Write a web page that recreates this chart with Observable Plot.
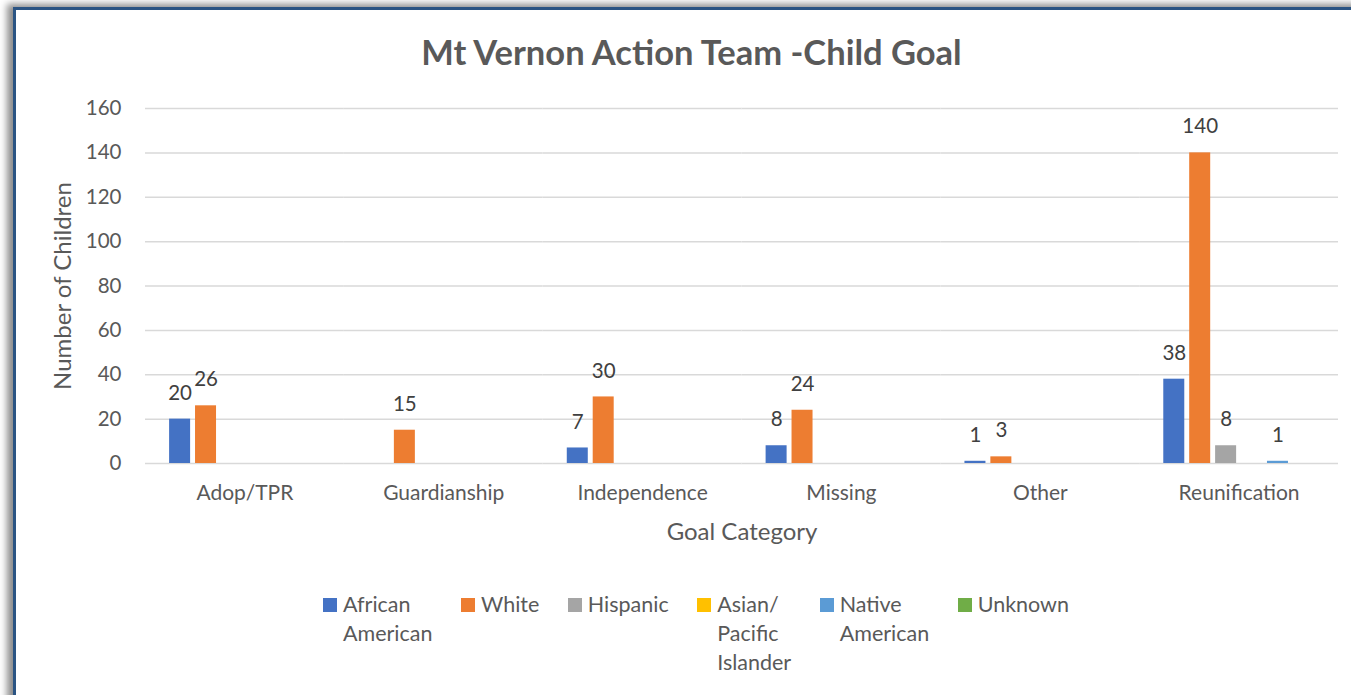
<!DOCTYPE html>
<html>
<head>
<meta charset="utf-8">
<script src="https://cdn.jsdelivr.net/npm/d3@7"></script>
<script src="https://cdn.jsdelivr.net/npm/@observablehq/plot@0.6"></script>
<style>
  html, body { margin: 0; padding: 0; background: #fff; }
  #wrap { position: relative; width: 1351px; height: 695px; overflow: hidden; background: #fff; font-family: Lato, "Open Sans", sans-serif; }
  #frame { position: absolute; left: 13px; top: 7px; width: 1500px; height: 900px;
           border-left: 3px solid #2B5483; border-top: 3px solid #2B5483;
           box-shadow: -6px -3px 7px rgba(0,0,0,0.45); background: #fff; }
  #title { position: absolute; left: 0; width: 1383px; top: 31px; text-align: center;
           font-size: 34.5px; font-weight: bold; color: #595959; }
  #chart { position: absolute; left: 0; top: 85px; }
  #legend { position: absolute; left: 323px; top: 590px; display: flex; align-items: flex-start;
            font-size: 21.5px; color: #595959; line-height: 29px; }
  .item { display: flex; align-items: flex-start; margin-right: 28.5px; }
  .sw { width: 14px; height: 14px; margin-top: 8px; margin-right: 6px; flex: none; }
</style>
</head>
<body>
<div id="wrap">
  <div id="frame"></div>
  <div id="title">Mt Vernon Action Team -Child Goal</div>
  <div id="chart"></div>
  <div id="legend"></div>
</div>
<script>
const categories = ["Adop/TPR", "Guardianship", "Independence", "Missing", "Other", "Reunification"];
const series = ["African American", "White", "Hispanic", "Asian/ Pacific Islander", "Native American", "Unknown"];
const colors = ["#4472C4", "#ED7D31", "#A5A5A5", "#FFC000", "#5B9BD5", "#70AD47"];
const africanAmerican = [20, 0, 7, 8, 1, 38];
const white = [26, 15, 30, 24, 3, 140];
const hispanic = [0, 0, 0, 0, 0, 8];
const asianPacific = [0, 0, 0, 0, 0, 0];
const nativeAmerican = [0, 0, 0, 0, 0, 1];
const unknown = [0, 0, 0, 0, 0, 0];
const yTicks = [0, 20, 40, 60, 80, 100, 120, 140, 160];

const seriesValues = [africanAmerican, white, hispanic, asianPacific, nativeAmerican, unknown];
const data = [];
categories.forEach((c, i) => {
  series.forEach((s, j) => data.push({category: c, series: s, value: seriesValues[j][i]}));
});

const plot = Plot.plot({
  width: 1351,
  height: 480,
  marginTop: 23,
  marginBottom: 102,
  marginLeft: 145,
  marginRight: 13,
  style: {fontFamily: "Lato, 'Open Sans', sans-serif", color: "#595959", background: "transparent"},
  fx: {domain: categories, padding: 0, round: false},
  x: {domain: series, paddingInner: 0.19, paddingOuter: 0.93, round: false, axis: null},
  y: {domain: [0, 160]},
  color: {domain: series, range: colors},
  marks: [
    Plot.ruleY(yTicks, {stroke: "#D9D9D9", strokeWidth: 1.5}),
    Plot.barY(data, {fx: "category", x: "series", y: "value", fill: "series"}),
    Plot.text(data.filter(d => d.value > 0), {fx: "category", x: "series", y: "value", text: d => String(d.value),
      dy: -26, fill: "#404040", fontSize: 20.5}),
    Plot.axisY({ticks: yTicks, tickSize: 0, tickPadding: 24, fontSize: 20.5, label: "Number of Children",
      labelAnchor: "center", labelOffset: 92, labelArrow: false, color: "#595959"}),
    Plot.axisFx({anchor: "bottom", tickSize: 0, tickPadding: 22, fontSize: 21, label: "Goal Category",
      labelAnchor: "center", labelOffset: 76, labelArrow: false, color: "#595959"})
  ]
});
plot.querySelectorAll("[aria-label='y-axis label'] text, [aria-label='fx-axis label'] text").forEach(t => t.setAttribute("font-size", 24));
document.getElementById("chart").appendChild(plot);

const legend = document.getElementById("legend");
series.forEach((s, j) => {
  const item = document.createElement("div");
  item.className = "item";
  const sw = document.createElement("div");
  sw.className = "sw";
  sw.style.background = colors[j];
  const lab = document.createElement("div");
  lab.innerHTML = s.split(" ").join("<br>");
  item.appendChild(sw);
  item.appendChild(lab);
  legend.appendChild(item);
});
</script>
</body>
</html>
